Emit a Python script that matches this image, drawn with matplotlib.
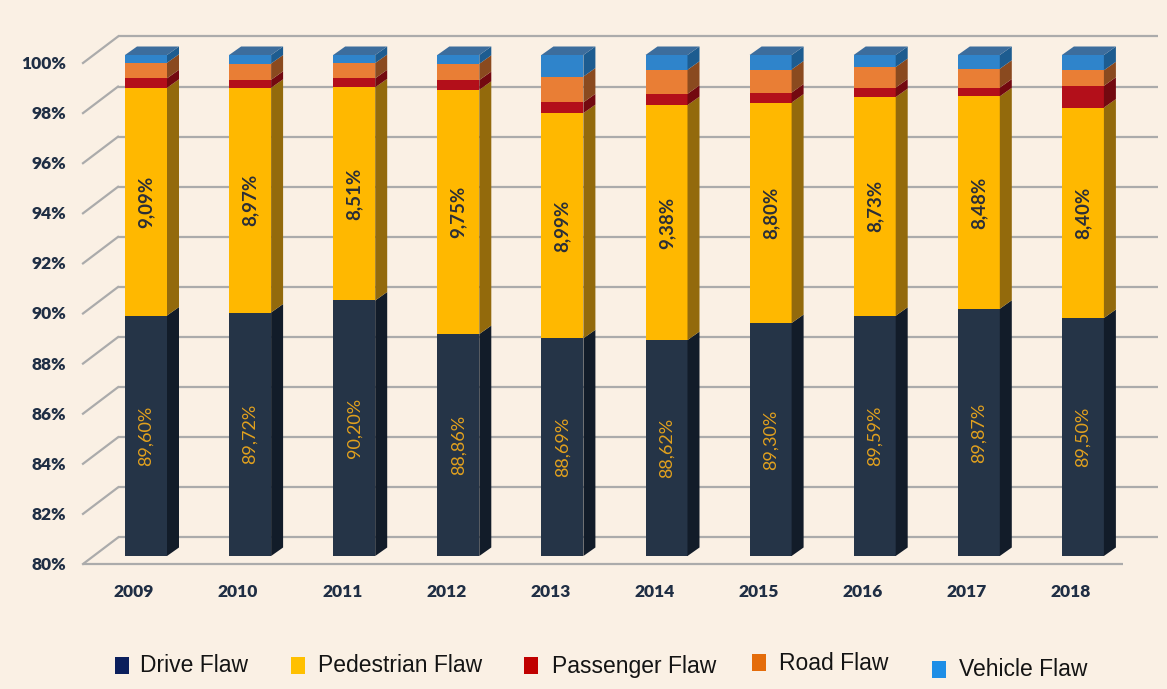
import matplotlib
matplotlib.use("Agg")
import matplotlib.pyplot as plt
from matplotlib.patches import Polygon, Rectangle
from matplotlib import font_manager

# ---- data -------------------------------------------------------------
years = ["2009", "2010", "2011", "2012", "2013", "2014", "2015", "2016", "2017", "2018"]
drive_flaw = [89.60, 89.72, 90.20, 88.86, 88.69, 88.62, 89.30, 89.59, 89.87, 89.50]
pedestrian_flaw = [9.09, 8.97, 8.51, 9.75, 8.99, 9.38, 8.80, 8.73, 8.48, 8.40]
passenger_flaw = [0.38, 0.32, 0.36, 0.39, 0.43, 0.45, 0.40, 0.38, 0.35, 0.87]
road_flaw = [0.62, 0.65, 0.61, 0.65, 1.03, 0.96, 0.92, 0.82, 0.75, 0.62]
vehicle_flaw = [0.31, 0.34, 0.32, 0.35, 0.86, 0.59, 0.58, 0.48, 0.55, 0.61]
y_ticks = [80, 82, 84, 86, 88, 90, 92, 94, 96, 98, 100]
series_names = ["Drive Flaw", "Pedestrian Flaw", "Passenger Flaw", "Road Flaw", "Vehicle Flaw"]

# ---- styling -----------------------------------------------------------
BG = "#FAF0E4"
front_colors = ["#253447", "#FFB800", "#B30F1A", "#E97E35", "#2F84CB"]
side_colors = ["#121C29", "#936A0C", "#730910", "#8A4A1F", "#1D5C90"]
top_color = "#3C6D9D"
legend_colors = ["#0B1F5C", "#FFC000", "#C00000", "#E46C0A", "#1E8EE6"]
GRID = "#ABABAB"
LABEL = "#1F2E44"

avail = {f.name for f in font_manager.fontManager.ttflist}
bold_family = "Lato" if "Lato" in avail else "DejaVu Sans"
legend_family = "Liberation Sans" if "Liberation Sans" in avail else "DejaVu Sans"

W, H = 1167, 689
fig = plt.figure(figsize=(W / 100, H / 100), dpi=100)
fig.patch.set_facecolor(BG)

# pixel geometry of the plot frame (front plane of the bars)
PX_X = 104.1   # pixels per category step
PX_Y = 25.05   # pixels per percentage point
x0_px, y80_px = 146.0, 556.0
left_px, right_px, top_px, bottom_px = 40, 1160, 25, 600

ax = fig.add_axes([left_px / W, 1 - bottom_px / H,
                   (right_px - left_px) / W, (bottom_px - top_px) / H])
ax.set_xlim((left_px - x0_px) / PX_X, (right_px - x0_px) / PX_X)
ax.set_ylim(80 - (bottom_px - y80_px) / PX_Y, 80 + (y80_px - top_px) / PX_Y)
ax.axis("off")
ax.set_facecolor(BG)


def dx(p):
    return p / PX_X


def dy(p):
    return p / PX_Y


# depth offsets
back_dx, back_dy = dx(26), dy(18.5)
front_dx, front_dy = dx(-9), dy(-8)
bar_dx, bar_dy = dx(12), dy(8.5)
back_left, back_right = dx(118 - x0_px), dx(1158 - x0_px)
front_left, front_right = dx(83 - x0_px), dx(1123 - x0_px)

# back wall gridlines and left-wall diagonals
for t in y_ticks:
    ax.plot([back_left, back_right], [t + back_dy, t + back_dy],
            color=GRID, lw=1.6, zorder=1, solid_capstyle="butt")
    ax.plot([front_left, back_left], [t + front_dy, t + back_dy],
            color=GRID, lw=1.6, zorder=1)
    ax.text(dx(66 - x0_px), t + front_dy - dy(1), f"{t}%", ha="right", va="center",
            fontsize=12.5, fontweight="heavy", color=LABEL, family=bold_family)

# front edge of the floor
ax.plot([front_left, front_right], [80 + front_dy, 80 + front_dy],
        color=GRID, lw=1.6, zorder=1, solid_capstyle="butt")

# stacked 3D-style bars
x = list(range(len(years)))
width = 42 / PX_X
series = [drive_flaw, pedestrian_flaw, passenger_flaw, road_flaw, vehicle_flaw]
bottoms = [80.0] * len(years)
for k, vals in enumerate(series):
    heights = [v - 80.0 if k == 0 else v for v in vals]
    ax.bar(x, heights, width=width, bottom=bottoms, color=front_colors[k],
           linewidth=0, zorder=3)
    for i in x:
        b = bottoms[i]
        t = b + heights[i]
        xr = i + width / 2
        side = Polygon([(xr, b), (xr + bar_dx, b + bar_dy),
                        (xr + bar_dx, t + bar_dy), (xr, t)],
                       closed=True, facecolor=side_colors[k], edgecolor="none", zorder=3)
        ax.add_patch(side)
    bottoms = [bottoms[i] + heights[i] for i in x]

# top faces
for i in x:
    t = bottoms[i]
    xl, xr = i - width / 2, i + width / 2
    ax.add_patch(Polygon([(xl, t), (xr, t), (xr + bar_dx, t + bar_dy), (xl + bar_dx, t + bar_dy)],
                         closed=True, facecolor=top_color, edgecolor="none", zorder=3))

# value labels inside the two main segments
for i in x:
    d = drive_flaw[i]
    p = pedestrian_flaw[i]
    ax.text(i, (80 + d) / 2, f"{d:.2f}%".replace(".", ","), rotation=90,
            ha="center", va="center", fontsize=13, color="#E2A11E",
            family=bold_family, zorder=5)
    ax.text(i, d + p / 2, f"{p:.2f}%".replace(".", ","), rotation=90,
            ha="center", va="center", fontsize=13.5, fontweight="bold", color="#2A2E38",
            family=bold_family, zorder=5)

# category labels
for i, yr in enumerate(years):
    ax.text(i - dx(12), 80 - dy(36), yr, ha="center", va="center", fontsize=12.5,
            fontweight="heavy", color=LABEL, family=bold_family)

# legend along the bottom
legend_items = [
    (115, 657, 140),
    (291, 657, 318),
    (524, 657, 552),
    (752, 654, 779),
    (932, 661, 959),
]
for (mx, my, tx), name, col in zip(legend_items, series_names, legend_colors):
    fig.patches.append(Rectangle((mx / W, 1 - (my + 17) / H), 14 / W, 17 / H,
                                 transform=fig.transFigure, facecolor=col,
                                 edgecolor="none"))
    fig.text(tx / W, 1 - (my + 9) / H, name, ha="left", va="center",
             fontsize=16.5, color="#141414", family=legend_family)

fig.savefig("out.png", dpi=100, facecolor=BG)
